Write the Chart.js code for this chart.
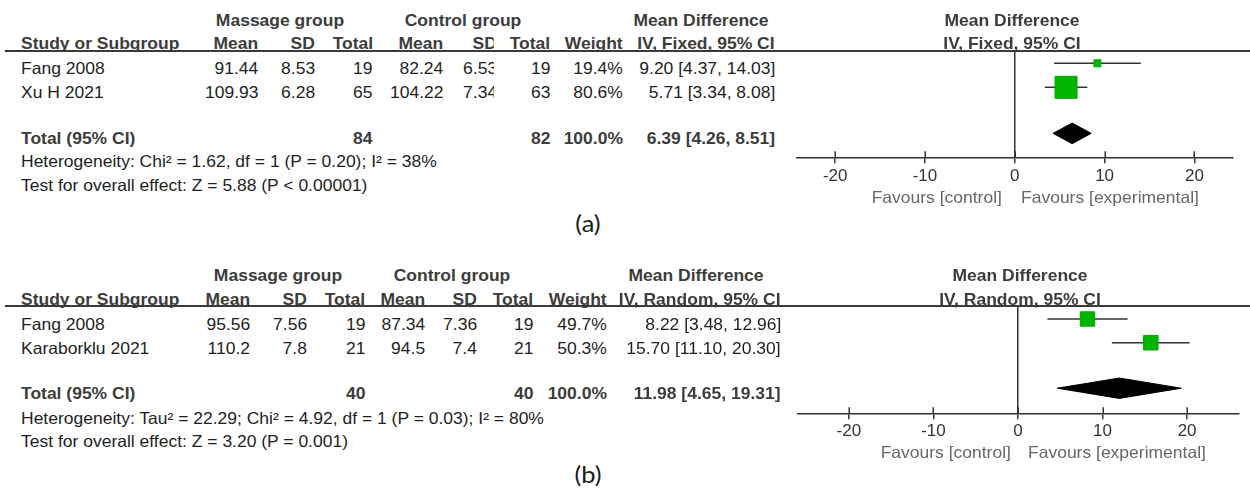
<!DOCTYPE html>
<html>
<head>
<meta charset="utf-8">
<title>Forest plots: massage group vs control group</title>
<script src="https://cdn.jsdelivr.net/npm/chart.js@4.4.1/dist/chart.umd.min.js"></script>
<style>
  html, body { margin: 0; padding: 0; background: #fff; }
  #page { position: relative; width: 1250px; height: 491px; overflow: hidden;
          font-family: "Liberation Sans", Arial, sans-serif; }
  .t { position: absolute; white-space: nowrap; font-size: 16.5px; line-height: 1; color: #1e1e1e; }
  .b { font-weight: bold; color: #3c3c3c; }
  .fav { color: #666; }
  .lbl { font-family: Lato, "Open Sans", sans-serif; font-size: 24px; color: #1a1a1a; }
  .rule { position: absolute; height: 2px; background: #3a3a3a; }
  .plot { position: absolute; }
</style>
</head>
<body>
<div id="page">
  <div class="plot" style="left:780px; top:0; width:470px; height:245px;">
    <canvas id="chartA" width="470" height="245"></canvas>
  </div>
  <div class="plot" style="left:780px; top:250px; width:470px; height:241px;">
    <canvas id="chartB" width="470" height="241"></canvas>
  </div>
</div>
<script>
// ---- (a) fixed-effect meta-analysis ----
const studiesA = ['Fang 2008', 'Xu H 2021'];
const massageMeanA = [91.44, 109.93];
const massageSdA = [8.53, 6.28];
const massageTotalA = [19, 65];
const controlMeanA = [82.24, 104.22];
const controlSdA = [6.53, 7.34];
const controlTotalA = [19, 63];
const weightA = [19.4, 80.6];
const meanDiffA = [9.20, 5.71];
const lowerA = [4.37, 3.34];
const upperA = [14.03, 8.08];
const pooledA = [6.39, 4.26, 8.51];          // estimate, lower, upper
const groupTotalsA = [84, 82];
const heterogeneityA = 'Heterogeneity: Chi\u00B2 = 1.62, df = 1 (P = 0.20); I\u00B2 = 38%';
const overallA = 'Test for overall effect: Z = 5.88 (P < 0.00001)';

// ---- (b) random-effects meta-analysis ----
const studiesB = ['Fang 2008', 'Karaborklu 2021'];
const massageMeanB = [95.56, 110.2];
const massageSdB = [7.56, 7.8];
const massageTotalB = [19, 21];
const controlMeanB = [87.34, 94.5];
const controlSdB = [7.36, 7.4];
const controlTotalB = [19, 21];
const weightB = [49.7, 50.3];
const meanDiffB = [8.22, 15.70];
const lowerB = [3.48, 11.10];
const upperB = [12.96, 20.30];
const pooledB = [11.98, 4.65, 19.31];
const groupTotalsB = [40, 40];
const heterogeneityB = 'Heterogeneity: Tau\u00B2 = 22.29; Chi\u00B2 = 4.92, df = 1 (P = 0.03); I\u00B2 = 80%';
const overallB = 'Test for overall effect: Z = 3.20 (P = 0.001)';

const tickValues = [-20, -10, 0, 10, 20];
const favourLabels = ['Favours [control]', 'Favours [experimental]'];

const page = document.getElementById('page');
const PAGE_W = 1250;
const STRETCH = 'scaleX(1.06)';

function put(text, x, y, align, cls, clipRight) {
  const el = document.createElement('div');
  el.className = 't' + (cls ? ' ' + cls : '');
  el.textContent = text;
  el.style.top = y + 'px';
  if (align === 'left') {
    el.style.left = x + 'px';
    el.style.transformOrigin = 'left center';
    el.style.transform = 'translateY(-50%) ' + STRETCH;
  } else if (align === 'right') {
    el.style.right = (PAGE_W - x) + 'px';
    el.style.transformOrigin = 'right center';
    el.style.transform = 'translateY(-50%) ' + STRETCH;
  } else {
    el.style.left = x + 'px';
    el.style.transformOrigin = 'center center';
    el.style.transform = 'translate(-50%, -50%) ' + STRETCH;
  }
  if (clipRight) el.style.clipPath = 'inset(-4px ' + clipRight + 'px -4px -4px)';
  page.appendChild(el);
  return el;
}

function rule(x, y, w) {
  const el = document.createElement('div');
  el.className = 'rule';
  el.style.left = x + 'px';
  el.style.top = y + 'px';
  el.style.width = w + 'px';
  page.appendChild(el);
}

const fmt2 = v => v.toFixed(2);
const ciText = (m, lo, hi) => fmt2(m) + ' [' + fmt2(lo) + ', ' + fmt2(hi) + ']';

// Left-hand table of one panel
function drawTable(d, L) {
  const c = L.cols;
  put('Massage group', L.massageX, L.groupY, 'center', 'b');
  put('Control group', L.controlX, L.groupY, 'center', 'b');
  put('Mean Difference', L.mdX, L.groupY, 'center', 'b');
  put('Mean Difference', L.plotX, L.groupY, 'center', 'b');

  put('Study or Subgroup', 20.5, L.headY, 'left', 'b');
  put('Mean', c[0], L.headY, 'right', 'b');
  put('SD', c[1], L.headY, 'right', 'b');
  put('Total', c[2], L.headY, 'right', 'b');
  put('Mean', c[3], L.headY, 'right', 'b');
  put('SD', c[4], L.headY, 'right', 'b', L.sdClip);
  put('Total', c[5], L.headY, 'right', 'b');
  put('Weight', c[6], L.headY, 'right', 'b');
  put(d.method, c[7], L.headY, 'right', 'b');
  put(d.method, L.plotX, L.headY, 'center', 'b');
  rule(5, L.ruleY, PAGE_W - 5);

  d.studies.forEach((s, i) => {
    const y = L.rowY + i * L.rowStep;
    put(s, 20.5, y, 'left');
    put(String(d.mMean[i]), c[0], y, 'right');
    put(String(d.mSd[i]), c[1], y, 'right');
    put(String(d.mTot[i]), c[2], y, 'right');
    put(String(d.cMean[i]), c[3], y, 'right');
    put(String(d.cSd[i]), c[4], y, 'right', null, L.sdClip);
    put(String(d.cTot[i]), c[5], y, 'right');
    put(d.weight[i].toFixed(1) + '%', c[6], y, 'right');
    put(ciText(d.md[i], d.lo[i], d.hi[i]), c[7], y, 'right');
  });

  put('Total (95% CI)', 20.5, L.totalY, 'left', 'b');
  put(String(d.totals[0]), c[2], L.totalY, 'right', 'b');
  put(String(d.totals[1]), c[5], L.totalY, 'right', 'b');
  put(d.weight.reduce((a, b) => a + b, 0).toFixed(1) + '%', c[6], L.totalY, 'right', 'b');
  put(ciText(d.pooled[0], d.pooled[1], d.pooled[2]), c[7], L.totalY, 'right', 'b');
  put(d.het, 20.5, L.hetY, 'left');
  put(d.overall, 20.5, L.testY, 'left');

  put(favourLabels[0], L.favLeftEnd, L.favY, 'right', 'fav');
  put(favourLabels[1], L.favRightStart, L.favY, 'left', 'fav');
  put(L.tag, L.tagX, L.tagY, 'center', 'lbl');
}

// Upper halves of the axis tick marks
const tickUp = {
  id: 'tickUp',
  afterDraw(chart) {
    const xs = chart.scales.x, ctx = chart.ctx, y = xs.top;
    ctx.save();
    ctx.strokeStyle = '#333';
    ctx.lineWidth = 1.5;
    xs.ticks.forEach(t => {
      const px = Math.round(xs.getPixelForValue(t.value)) + 0.25;
      ctx.beginPath();
      ctx.moveTo(px, y - 6);
      ctx.lineTo(px, y);
      ctx.stroke();
    });
    ctx.restore();
  }
};

// Forest plot of one panel
function drawForest(canvasId, d, P) {
  const n = d.studies.length;
  const totalRow = n + 0.92;
  const half = 0.43;
  const squareSide = w => 3.25 + 0.245 * w;
  const datasets = [];

  d.studies.forEach((s, i) => {
    datasets.push({
      label: s + ' 95% CI',
      data: [{ x: d.lo[i], y: i }, { x: d.hi[i], y: i }],
      showLine: true, borderColor: '#333', borderWidth: 1.5,
      pointRadius: 0, order: 3, clip: false
    });
  });
  datasets.push({
    label: 'Study mean difference',
    data: d.md.map((m, i) => ({ x: m, y: i })),
    pointStyle: 'rect',
    pointRadius: d.weight.map(w => (squareSide(w) - 1) / Math.SQRT2),
    backgroundColor: '#00B400', borderColor: '#00A800', borderWidth: 1,
    order: 2, clip: false
  });
  const [est, lo, hi] = d.pooled;
  datasets.push({
    label: 'Pooled mean difference',
    data: [
      { x: lo, y: totalRow }, { x: est, y: totalRow - half },
      { x: hi, y: totalRow }, { x: est, y: totalRow + half },
      { x: lo, y: totalRow }
    ],
    showLine: true, fill: 'shape', tension: 0,
    backgroundColor: '#000', borderColor: '#000', borderWidth: 1,
    pointRadius: 0, order: 1, clip: false
  });

  return new Chart(document.getElementById(canvasId), {
    type: 'scatter',
    data: { datasets },
    options: {
      responsive: false,
      animation: false,
      events: [],
      layout: { padding: { left: P.padL, right: P.padR, top: P.padT, bottom: 0 } },
      plugins: { legend: { display: false }, tooltip: { enabled: false } },
      scales: {
        x: {
          type: 'linear', min: -P.xMax, max: P.xMax,
          afterBuildTicks: s => { s.ticks = tickValues.map(v => ({ value: v })); },
          afterFit: s => { s.height = P.axisH; },
          grid: {
            color: c => (c.tick && c.tick.value === 0) ? '#333' : 'rgba(0,0,0,0)',
            tickColor: '#333', lineWidth: 1.5, tickLength: 6, drawOnChartArea: true
          },
          border: { display: true, color: '#333', width: 1.5 },
          ticks: {
            color: '#333', padding: P.tickPad, maxRotation: 0, autoSkip: false,
            font: { family: 'Liberation Sans', size: 17 },
            callback: v => String(v)
          }
        },
        y: { type: 'linear', display: false, reverse: true, min: P.yMin, max: P.yMax }
      }
    },
    plugins: [tickUp]
  });
}

const dataA = {
  studies: studiesA, mMean: massageMeanA, mSd: massageSdA, mTot: massageTotalA,
  cMean: controlMeanA, cSd: controlSdA, cTot: controlTotalA, weight: weightA,
  md: meanDiffA, lo: lowerA, hi: upperA, pooled: pooledA, totals: groupTotalsA,
  het: heterogeneityA, overall: overallA, method: 'IV, Fixed, 95% CI'
};
const dataB = {
  studies: studiesB, mMean: massageMeanB, mSd: massageSdB, mTot: massageTotalB,
  cMean: controlMeanB, cSd: controlSdB, cTot: controlTotalB, weight: weightB,
  md: meanDiffB, lo: lowerB, hi: upperB, pooled: pooledB, totals: groupTotalsB,
  het: heterogeneityB, overall: overallB, method: 'IV, Random, 95% CI'
};

drawTable(dataA, {
  cols: [258, 315, 372.7, 443.3, 497, 550, 622.7, 775], sdClip: 3,
  massageX: 280.3, controlX: 462.5, mdX: 700.8, plotX: 1012.2,
  groupY: 20, headY: 43, ruleY: 50.2, rowY: 67.5, rowStep: 24, totalY: 137.5,
  hetY: 161, testY: 184.5,
  favLeftEnd: 1001.7, favRightStart: 1020.7, favY: 196.7,
  tag: '(a)', tagX: 587.8, tagY: 223
});
drawTable(dataB, {
  cols: [250, 307, 365, 425, 477.3, 533, 606.7, 781], sdClip: 0,
  massageX: 277.5, controlX: 451.5, mdX: 695.8, plotX: 1020,
  groupY: 275, headY: 299, ruleY: 305.3, rowY: 324, rowStep: 23.7, totalY: 393.3,
  hetY: 418.3, testY: 440.7,
  favLeftEnd: 1010.7, favRightStart: 1028.3, favY: 451.7,
  tag: '(b)', tagX: 587.7, tagY: 474.3
});

drawForest('chartA', dataA, { padL: 12, padR: 17, padT: 51.7, axisH: 87.7, xMax: 24.3, yMin: -0.483, yMax: 3.917, tickPad: 3 });
drawForest('chartB', dataB, { padL: 17.3, padR: 7.3, padT: 56.7, axisH: 77.7, xMax: 26.1, yMin: -0.519, yMax: 3.979, tickPad: 2 });
</script>
</body>
</html>
